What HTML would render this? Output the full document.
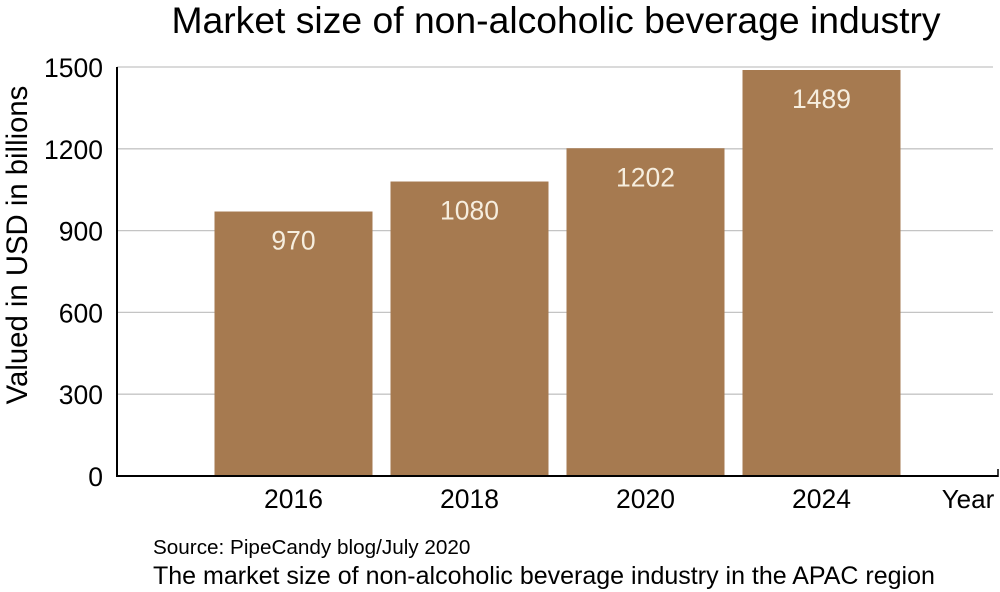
<!DOCTYPE html>
<html><head><meta charset="utf-8"><style>
html,body{margin:0;padding:0;background:#fff;}
svg{display:block;font-family:"Liberation Sans",Arial,sans-serif;}
</style></head><body>
<svg id="chart" width="1000" height="592" viewBox="0 0 1000 592">
<text x="556" y="33" font-size="37.3" text-anchor="middle" fill="#000">Market size of non-alcoholic beverage industry</text>
<text transform="translate(27,245) rotate(-90)" font-size="29.3" text-anchor="middle" fill="#000">Valued in USD in billions</text>
<g id="grid"></g><g id="bars"></g><g id="labels"></g>
<line x1="117" y1="476" x2="998" y2="476" stroke="#000" stroke-width="2"/>
<line x1="117" y1="67" x2="117" y2="477" stroke="#000" stroke-width="2"/>
<line x1="998" y1="469" x2="998" y2="477" stroke="#000" stroke-width="1.5"/>
<text x="968" y="508" font-size="26" text-anchor="middle" fill="#000">Year</text>
<text x="153" y="554" font-size="20.7" fill="#000">Source: PipeCandy blog/July 2020</text>
<text x="153" y="584" font-size="25" fill="#000">The market size of non-alcoholic beverage industry in the APAC region</text>
</svg>
<script>
const categories = ["2016","2018","2020","2024"];
const values = [970,1080,1202,1489];
const yTicks = [0,300,600,900,1200,1500];
const NS="http://www.w3.org/2000/svg";
function y(v){return 476 - v*(409/1500);}
function xc(i){return 293.5 + i*176;}
const grid=document.getElementById('grid'), bars=document.getElementById('bars'), labels=document.getElementById('labels');
function mk(tag,attrs,parent,txt){const e=document.createElementNS(NS,tag);for(const k in attrs)e.setAttribute(k,attrs[k]);if(txt!==undefined)e.textContent=txt;parent.appendChild(e);return e;}
yTicks.forEach(t=>{
  if(t>0){const l=mk('line',{x1:117,x2:993,y1:y(t),y2:y(t),stroke:'#c4c4c4','stroke-width':1.3},grid);
  
  }
  const tx=mk('text',{x:103,y:y(t)+10,'font-size':26.5,'text-anchor':'end',fill:'#000'},grid,String(t));
  
  
});
categories.forEach((c,i)=>{
  const r=mk('rect',{x:xc(i)-79,y:y(values[i]),width:158,height:476-y(values[i]),fill:'#a67a50'},bars);
  
  
  const v=mk('text',{x:xc(i),y:y(values[i])+38,'font-size':26.5,'text-anchor':'middle',fill:'#f6eedf'},labels,String(values[i]));
  
  
  const xl=mk('text',{x:xc(i),y:508,'font-size':26.5,'text-anchor':'middle',fill:'#000'},labels,c);
  
  
});
</script>
</body></html>
